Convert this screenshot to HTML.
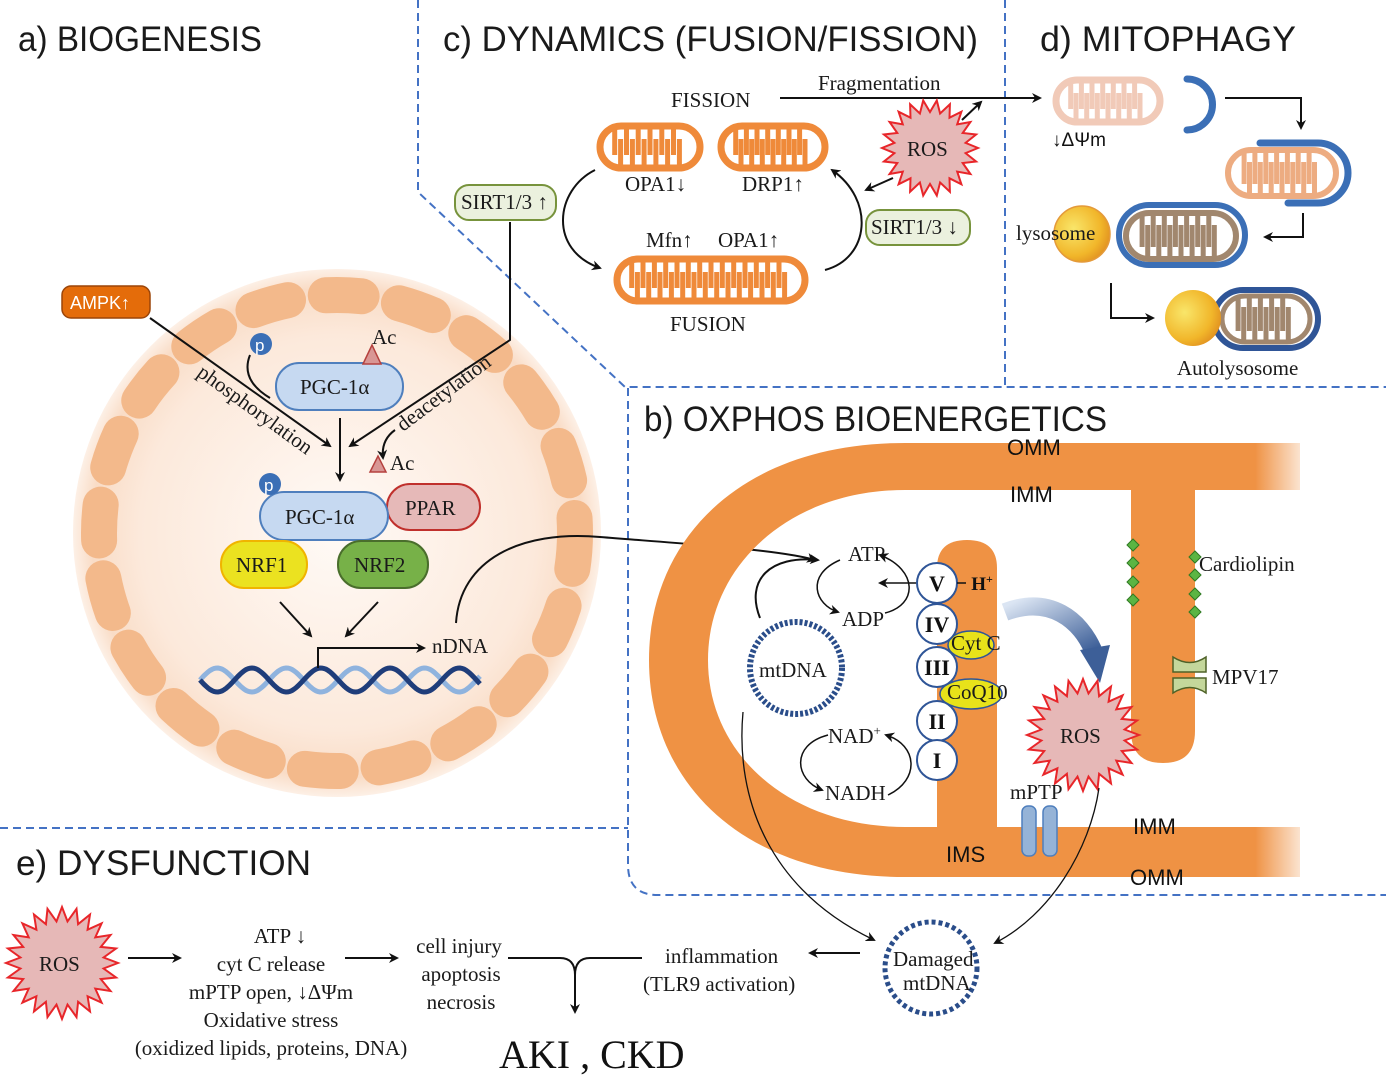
<!DOCTYPE html>
<html><head><meta charset="utf-8"><style>
html,body{margin:0;padding:0;background:#fff}
svg{display:block}
.t{font-family:"Liberation Sans",sans-serif;font-size:35px;fill:#1a1a1a}
.s{font-family:"Liberation Serif",serif;font-size:21px;fill:#1a1a1a}
.ls{font-family:"Liberation Sans",sans-serif;font-size:22px;fill:#111}
</style></head><body>
<svg id="sv" width="1386" height="1078" viewBox="0 0 1386 1078" xmlns="http://www.w3.org/2000/svg">
<defs>
<marker id="ar" markerWidth="10" markerHeight="10" refX="8" refY="5" orient="auto" markerUnits="userSpaceOnUse"><path d="M0,0 L10,5 L0,10 L3,5z" fill="#111"/></marker>
<radialGradient id="cell" cx="0.5" cy="0.5" r="0.5"><stop offset="0" stop-color="#fffaf6"/><stop offset="0.75" stop-color="#fce9db"/><stop offset="0.93" stop-color="#f9dcc6"/><stop offset="1" stop-color="#fdf0e6"/></radialGradient>
<linearGradient id="fadeR" x1="0" x2="1"><stop offset="0" stop-color="#fff" stop-opacity="0"/><stop offset="1" stop-color="#fff" stop-opacity="1"/></linearGradient>
<linearGradient id="blu" x1="0" y1="0" x2="1" y2="1"><stop offset="0" stop-color="#dbe5f3"/><stop offset="1" stop-color="#3d5f98"/></linearGradient>
<radialGradient id="lys" cx="0.35" cy="0.4" r="0.7"><stop offset="0" stop-color="#f9e66a"/><stop offset="0.7" stop-color="#f1b62a"/><stop offset="1" stop-color="#e08f20"/></radialGradient>
</defs>

<g stroke="#4472c4" stroke-width="2" stroke-dasharray="8,5" fill="none">
<path d="M418,0 V192 L625,387 H1386"/>
<path d="M1005,0 V387"/>
<path d="M0,828 H628"/>
<path d="M628,388 V865 Q628,895 658,895 H1386"/>
</g>

<text class="t" x="18" y="51" textLength="244" lengthAdjust="spacingAndGlyphs">a) BIOGENESIS</text>
<text class="t" x="443" y="51" textLength="535" lengthAdjust="spacingAndGlyphs">c) DYNAMICS (FUSION/FISSION)</text>
<text class="t" x="1040" y="51" textLength="256" lengthAdjust="spacingAndGlyphs">d) MITOPHAGY</text>
<text class="t" x="644" y="431" textLength="463" lengthAdjust="spacingAndGlyphs">b) OXPHOS BIOENERGETICS</text>
<text class="t" x="16" y="875" textLength="295" lengthAdjust="spacingAndGlyphs">e) DYSFUNCTION</text>

<circle cx="337" cy="533" r="264" fill="url(#cell)"/>
<circle cx="337" cy="533" r="238" fill="none" stroke="#f3b98b" stroke-width="36" stroke-dasharray="36,38" stroke-linecap="round"/>

<rect x="62" y="286" width="88" height="32" rx="9" fill="#e46c0a" stroke="#9c4508" stroke-width="1.5"/>
<text x="70" y="309" font-family="Liberation Sans,sans-serif" font-size="18" fill="#fff">AMPK↑</text>
<path d="M150,318 L330,446" stroke="#111" stroke-width="2" fill="none" marker-end="url(#ar)"/>
<text class="s" font-size="17" transform="translate(196,375) rotate(36)">phosphorylation</text>
<circle cx="261" cy="344" r="11" fill="#3b6fb6"/><text x="255" y="351" font-family="Liberation Sans,sans-serif" font-size="17" fill="#fff">p</text>
<path d="M250,355 Q240,380 270,398" stroke="#111" stroke-width="2" fill="none"/>
<rect x="276" y="363" width="127" height="47" rx="23" fill="#c6d9f1" stroke="#4f7fbd" stroke-width="2"/>
<text class="s" x="300" y="394">PGC-1α</text>
<path d="M363,364 L372,345 L381,364z" fill="#d99694" stroke="#b5413e" stroke-width="1.5"/>
<text class="s" font-size="17" x="372" y="344">Ac</text>
<path d="M340,418 V480" stroke="#111" stroke-width="2" marker-end="url(#ar)"/>
<path d="M510,222 V340 L350,446" stroke="#111" stroke-width="2" fill="none" marker-end="url(#ar)"/>
<text class="s" font-size="17" transform="translate(403,432) rotate(-37)">deacetylation</text>
<path d="M395,430 Q381,440 383,458" stroke="#111" stroke-width="2" fill="none" marker-end="url(#ar)"/>
<path d="M370,472 L378,456 L386,472z" fill="#d99694" stroke="#b5413e" stroke-width="1.5"/>
<text class="s" font-size="17" x="390" y="470">Ac</text>
<rect x="387" y="484" width="93" height="46" rx="23" fill="#e6b9b8" stroke="#c0302c" stroke-width="2"/>
<text class="s" x="405" y="515">PPAR</text>
<rect x="260" y="492" width="128" height="48" rx="24" fill="#c6d9f1" stroke="#4f7fbd" stroke-width="2"/>
<text class="s" x="285" y="524">PGC-1α</text>
<circle cx="270" cy="484" r="11" fill="#3b6fb6"/><text x="264" y="491" font-family="Liberation Sans,sans-serif" font-size="17" fill="#fff">p</text>
<rect x="221" y="541" width="86" height="47" rx="23" fill="#ebe220" stroke="#f0b400" stroke-width="2"/>
<text class="s" x="236" y="572">NRF1</text>
<rect x="338" y="541" width="90" height="47" rx="23" fill="#77b148" stroke="#4a6e2c" stroke-width="2"/>
<text class="s" x="354" y="572">NRF2</text>
<path d="M280,602 L311,636" stroke="#111" stroke-width="2" marker-end="url(#ar)"/>
<path d="M378,602 L346,636" stroke="#111" stroke-width="2" marker-end="url(#ar)"/>
<g id="helix"></g>
<path d="M318,668 V648 H424" stroke="#111" stroke-width="2" fill="none" marker-end="url(#ar)"/>
<text class="s" x="432" y="653">nDNA</text>
<path d="M456,623 C460,560 520,530 600,537 C700,545 780,550 815,560" stroke="#111" stroke-width="2" fill="none" marker-end="url(#ar)"/>

<text class="s" x="671" y="107" font-size="22">FISSION</text>
<path d="M780,98 H1040" stroke="#111" stroke-width="2" marker-end="url(#ar)"/>
<text class="s" x="818" y="90">Fragmentation</text>
<g id="mitos"></g>
<text class="s" x="625" y="191">OPA1↓</text>
<text class="s" x="742" y="191">DRP1↑</text>
<text class="s" x="646" y="247">Mfn↑</text>
<text class="s" x="718" y="247">OPA1↑</text>
<text class="s" x="670" y="331" font-size="22">FUSION</text>
<rect x="455" y="185" width="101" height="35" rx="14" fill="#ebf1de" stroke="#77933c" stroke-width="2"/>
<text class="s" font-size="19" x="461" y="209">SIRT1/3 ↑</text>
<rect x="866" y="210" width="104" height="35" rx="14" fill="#ebf1de" stroke="#77933c" stroke-width="2"/>
<text class="s" font-size="19" x="871" y="234">SIRT1/3 ↓</text>
<path d="M595,170 C555,190 548,250 600,268" stroke="#111" stroke-width="2" fill="none" marker-end="url(#ar)"/>
<path d="M825,270 C870,258 875,200 832,170" stroke="#111" stroke-width="2" fill="none" marker-end="url(#ar)"/>
<g id="ros1"></g>
<text class="s" x="907" y="156">ROS</text>
<path d="M893,178 L866,190" stroke="#111" stroke-width="2" marker-end="url(#ar)"/>
<path d="M962,120 L981,102" stroke="#111" stroke-width="2" marker-end="url(#ar)"/>

<g id="mitod"></g>
<text x="1052" y="146" font-family="Liberation Sans,sans-serif" font-size="19" fill="#111">↓ΔΨm</text>
<path d="M1225,98 H1301 V128" stroke="#111" stroke-width="2" fill="none" marker-end="url(#ar)"/>
<path d="M1303,213 V237 H1265" stroke="#111" stroke-width="2" fill="none" marker-end="url(#ar)"/>
<circle cx="1082" cy="234" r="28" fill="url(#lys)" stroke="#e49a3a" stroke-width="1.5"/>
<text class="s" x="1016" y="240">lysosome</text>
<path d="M1111,283 V318 H1153" stroke="#111" stroke-width="2" fill="none" marker-end="url(#ar)"/>
<circle cx="1193" cy="318" r="28" fill="url(#lys)"/>
<text class="s" x="1177" y="375">Autolysosome</text>

<path d="M1300,443 H905 C740,443 649,540 649,660 C649,780 740,877 905,877 H1300 V827 H905 C790,827 708,755 708,660 C708,565 790,490 905,490 H1300z" fill="#ef9244"/>
<path d="M937,827 V568 Q937,540 967,540 Q997,540 997,568 V827z" fill="#ef9244"/>
<path d="M1131,485 V731 Q1131,763 1163,763 Q1195,763 1195,731 V485z" fill="#ef9244"/>
<rect x="1255" y="440" width="60" height="440" fill="url(#fadeR)"/>
<rect x="1310" y="440" width="80" height="440" fill="#fff"/>
<text class="ls" x="1007" y="455">OMM</text>
<text class="ls" x="1010" y="502">IMM</text>
<text class="ls" x="1133" y="834">IMM</text>
<text class="ls" x="1130" y="885">OMM</text>
<text class="ls" x="946" y="862">IMS</text>
<path d="M760,618 C745,580 770,555 818,560" stroke="#111" stroke-width="2" fill="none" marker-end="url(#ar)"/>
<path d="M840,560 C805,575 815,605 838,612" stroke="#111" stroke-width="1.5" fill="none" marker-end="url(#ar)"/>
<path d="M885,613 C918,605 918,570 880,555" stroke="#111" stroke-width="1.5" fill="none" marker-end="url(#ar)"/>
<path d="M916,583 H880" stroke="#111" stroke-width="1.5" marker-end="url(#ar)"/>
<text class="s" x="848" y="561">ATP</text>
<text class="s" x="842" y="626">ADP</text>
<path d="M828,735 C790,745 795,780 822,790" stroke="#111" stroke-width="1.5" fill="none" marker-end="url(#ar)"/>
<path d="M888,795 C920,780 918,745 886,735" stroke="#111" stroke-width="1.5" fill="none" marker-end="url(#ar)"/>
<text class="s" x="828" y="743">NAD<tspan font-size="13" dy="-8">+</tspan></text>
<text class="s" x="825" y="800">NADH</text>
<ellipse cx="971" cy="645" rx="23" ry="14" fill="#e8e21a" stroke="#2f5597" stroke-width="1.5"/>
<text class="s" font-size="15" x="951" y="650">Cyt C</text>
<ellipse cx="971" cy="694" rx="31" ry="15" fill="#e8e21a" stroke="#2f5597" stroke-width="1.5"/>
<text class="s" font-size="15" x="947" y="699">CoQ10</text>
<g font-family="Liberation Serif,serif" font-weight="bold" font-size="22" text-anchor="middle" fill="#111">
<circle cx="937" cy="583" r="20" fill="#fff" stroke="#2f5597" stroke-width="2"/><text x="937" y="591">V</text>
<circle cx="937" cy="624" r="20" fill="#fff" stroke="#2f5597" stroke-width="2"/><text x="937" y="632">IV</text>
<circle cx="937" cy="667" r="20" fill="#fff" stroke="#2f5597" stroke-width="2"/><text x="937" y="675">III</text>
<circle cx="937" cy="721" r="20" fill="#fff" stroke="#2f5597" stroke-width="2"/><text x="937" y="729">II</text>
<circle cx="937" cy="760" r="20" fill="#fff" stroke="#2f5597" stroke-width="2"/><text x="937" y="768">I</text>
<text x="982" y="590" font-size="19">H<tspan font-size="12" dy="-7">+</tspan></text>
</g>
<path d="M957,583 H966" stroke="#111" stroke-width="1.5"/>
<circle cx="796" cy="668" r="46" fill="none" stroke="#2a4d8a" stroke-width="6" stroke-dasharray="3,2"/>
<text class="s" x="759" y="677">mtDNA</text>
<path d="M1005,612 C1050,595 1080,620 1093,650" stroke="url(#blu)" stroke-width="18" fill="none"/>
<path d="M1080,650 L1110,645 L1100,683z" fill="#3d5f98"/>
<g id="ros2"></g>
<text class="s" x="1060" y="743">ROS</text>
<g fill="#5bb543" stroke="#2f7a22" stroke-width="1">
<path d="M1133,539 l6,6 l-6,6 l-6,-6z"/><path d="M1133,557 l6,6 l-6,6 l-6,-6z"/><path d="M1133,576 l6,6 l-6,6 l-6,-6z"/><path d="M1133,594 l6,6 l-6,6 l-6,-6z"/>
<path d="M1195,551 l6,6 l-6,6 l-6,-6z"/><path d="M1195,569 l6,6 l-6,6 l-6,-6z"/><path d="M1195,588 l6,6 l-6,6 l-6,-6z"/><path d="M1195,606 l6,6 l-6,6 l-6,-6z"/>
</g>
<text class="s" x="1199" y="571">Cardiolipin</text>
<path d="M1173,657 Q1190,668 1206,657 V672 H1173z M1173,693 Q1190,682 1206,693 V678 H1173z" fill="#c4d79b" stroke="#4f6228" stroke-width="1.5"/>
<text class="s" x="1212" y="684">MPV17</text>
<text class="s" x="1010" y="799">mPTP</text>
<rect x="1022" y="806" width="14" height="50" rx="6" fill="#95b3d7" stroke="#4f7fbd" stroke-width="1.5"/>
<rect x="1043" y="806" width="14" height="50" rx="6" fill="#95b3d7" stroke="#4f7fbd" stroke-width="1.5"/>
<path d="M743,712 C735,800 770,890 874,940" stroke="#111" stroke-width="1.3" fill="none" marker-end="url(#ar)"/>
<path d="M1099,788 C1090,850 1050,915 995,943" stroke="#111" stroke-width="1.3" fill="none" marker-end="url(#ar)"/>

<g id="ros3"></g>
<text class="s" x="39" y="971">ROS</text>
<circle cx="931" cy="968" r="46" fill="#fff" stroke="#2a4d8a" stroke-width="5" stroke-dasharray="4,3"/>
<text class="s" font-size="17" x="893" y="966">Damaged</text>
<text class="s" font-size="17" x="903" y="990">mtDNA</text>
<path d="M860,953 H810" stroke="#111" stroke-width="2" marker-end="url(#ar)"/>
<text class="s" x="665" y="963">inflammation</text>
<text class="s" x="643" y="991">(TLR9 activation)</text>
<path d="M128,958 H180" stroke="#111" stroke-width="2" marker-end="url(#ar)"/>
<path d="M345,958 H397" stroke="#111" stroke-width="2" marker-end="url(#ar)"/>
<text class="s" x="280" y="943" text-anchor="middle">ATP ↓</text>
<text class="s" x="271" y="971" text-anchor="middle">cyt C release</text>
<text class="s" x="271" y="999" text-anchor="middle">mPTP open, ↓ΔΨm</text>
<text class="s" x="271" y="1027" text-anchor="middle">Oxidative stress</text>
<text class="s" x="271" y="1055" text-anchor="middle">(oxidized lipids, proteins, DNA)</text>
<text class="s" x="459" y="953" text-anchor="middle">cell injury</text>
<text class="s" x="461" y="981" text-anchor="middle">apoptosis</text>
<text class="s" x="461" y="1009" text-anchor="middle">necrosis</text>
<path d="M508,958 H560 Q575,958 575,975 Q575,958 590,958 H642 M575,975 V1012" stroke="#111" stroke-width="2" fill="none" marker-end="url(#ar)"/>
<text x="499" y="1068" font-family="Liberation Serif,serif" font-size="40" fill="#111">AKI , CKD</text>
</svg>
<script>
var NS="http://www.w3.org/2000/svg";
function el(p,t,a){var e=document.createElementNS(NS,t);for(var k in a)e.setAttribute(k,a[k]);p.appendChild(e);return e;}
function star(g,cx,cy,r1,r2,n){var pts=[];for(var i=0;i<2*n;i++){var r=i%2?r2:r1,a=Math.PI*i/n;pts.push((cx+r*Math.cos(a)).toFixed(1)+","+(cy+r*Math.sin(a)).toFixed(1));}
el(document.getElementById(g),"polygon",{points:pts.join(" "),fill:"#e6b8b7",stroke:"#e8262a","stroke-width":2});}
star("ros1",930,148,48,36,22);star("ros2",1083,735,56,42,24);star("ros3",62,963,56,42,24);
var h=document.getElementById("helix"),d1="",d2="";
for(var x=200;x<=480;x+=2){var y1=680+12*Math.sin((x-200)/11),y2=680-12*Math.sin((x-200)/11);d1+=(x==200?"M":"L")+x+","+y1.toFixed(1);d2+=(x==200?"M":"L")+x+","+y2.toFixed(1);}
el(h,"path",{d:d2,stroke:"#8fb3de","stroke-width":5,fill:"none"});el(h,"path",{d:d1,stroke:"#1f3d7a","stroke-width":5,fill:"none"});
function mito(g,x,y,w,hh,col,sw,fill,o){var G=document.getElementById(g);var gg=el(G,"g",{opacity:o||1});
el(gg,"rect",{x:x,y:y,width:w,height:hh,rx:hh/2,fill:fill||"#fff",stroke:col,"stroke-width":sw});
var n=Math.round((w-hh*0.6)/12),d="",ix=x+hh*0.35,step=(w-hh*0.7)/n;
for(var i=0;i<n;i++){var xx=ix+i*step;d+="M"+xx.toFixed(1)+","+(y+sw/2)+" V"+(y+hh-sw-6)+" ";
d+="M"+(xx+step/2).toFixed(1)+","+(y+hh-sw/2)+" V"+(y+sw+6)+" ";}
el(gg,"path",{d:d,stroke:col,"stroke-width":5,fill:"none"});}
mito("mitos",600,126,100,42,"#ef8a3a",7);mito("mitos",721,126,104,42,"#ef8a3a",7);mito("mitos",617,259,188,42,"#ef8a3a",7);
mito("mitod",1056,80,104,42,"#e9a88a",7,"#fff",0.6);
mito("mitod",1228,150,108,46,"#e68a4c",6,"#fff",0.7);
mito("mitod",1126,213,110,46,"#8a6a4a",6,"#fff",0.8);
mito("mitod",1222,296,88,46,"#8a6a4a",5,"#fff",0.8);
var D=document.getElementById("mitod");
el(D,"path",{d:"M1187,79 A22,22 0 0 1 1187,130",stroke:"#3b6fb6","stroke-width":7,fill:"none","stroke-linecap":"round"});
el(D,"path",{d:"M1260,143 H1318 A30,30 0 0 1 1318,203 H1288",stroke:"#3b6fb6","stroke-width":7,fill:"none","stroke-linecap":"round"});
el(D,"rect",{x:1119,y:205,width:126,height:60,rx:30,fill:"none",stroke:"#3b6fb6","stroke-width":6});
el(D,"rect",{x:1214,y:290,width:104,height:58,rx:29,fill:"none",stroke:"#2f5597","stroke-width":6});
</script>
</body></html>
